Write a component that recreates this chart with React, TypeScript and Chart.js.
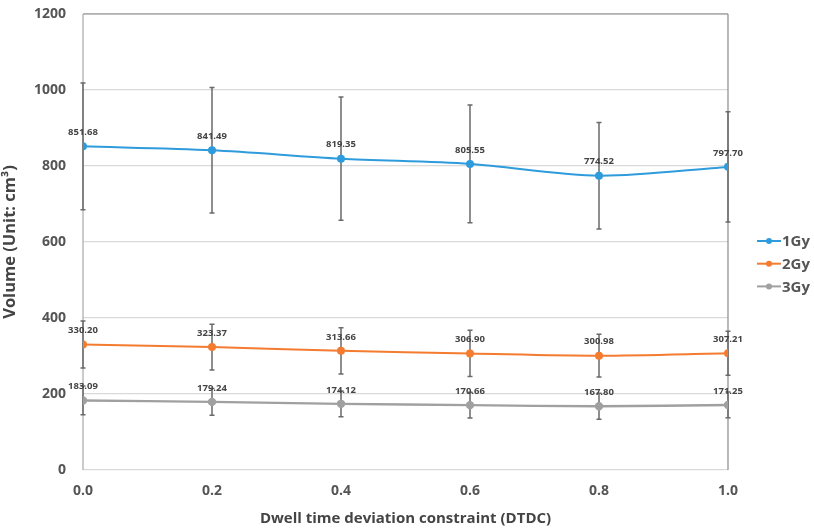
import React, { useEffect, useRef } from "react";
import { Chart, registerables } from "chart.js";

Chart.register(...registerables);

const dtdc = [0.0, 0.2, 0.4, 0.6, 0.8, 1.0];
const gy1 = [851.68, 841.49, 819.35, 805.55, 774.52, 797.7];
const gy2 = [330.2, 323.37, 313.66, 306.9, 300.98, 307.21];
const gy3 = [183.09, 179.24, 174.12, 170.66, 167.8, 171.25];
const err1 = [167, 165, 162, 155, 140, 145];
const err2 = [62, 60, 61, 61, 56, 58];
const err3 = [38, 35, 34, 34, 34, 34];
const seriesNames = ["1Gy", "2Gy", "3Gy"];
const seriesColors = ["#2E9CDC", "#F47B2F", "#A0A0A0"];
const yTicks = [0, 200, 400, 600, 800, 1000, 1200];

const FONT = "'Open Sans', 'Liberation Sans', sans-serif";

const errs = [err1, err2, err3];

const customPlugin = {
  id: "custom",
  beforeDatasetsDraw(chart: any) {
    const ctx = chart.ctx;
    const { left, right, top, bottom } = chart.chartArea;
    ctx.save();
    ctx.lineWidth = 1.2;
    ctx.strokeStyle = "#8a8a8a";
    ctx.beginPath();
    ctx.moveTo(left, top);
    ctx.lineTo(right, top);
    ctx.moveTo(right, top);
    ctx.lineTo(right, bottom);
    ctx.stroke();
    ctx.strokeStyle = "#a8a8a8";
    ctx.beginPath();
    ctx.moveTo(left, top);
    ctx.lineTo(left, bottom);
    ctx.stroke();
    const xs = chart.scales.x;
    const ys = chart.scales.y;
    ctx.strokeStyle = "#6a6a6a";
    ctx.lineWidth = 1.5;
    chart.data.datasets.forEach((ds: any, i: number) => {
      ds.data.forEach((p: any, j: number) => {
        const e = errs[i][j];
        const px = xs.getPixelForValue(p.x);
        const y1 = ys.getPixelForValue(p.y + e);
        const y2 = ys.getPixelForValue(p.y - e);
        ctx.beginPath();
        ctx.moveTo(px, y1);
        ctx.lineTo(px, y2);
        ctx.moveTo(px - 2.5, y1);
        ctx.lineTo(px + 2.5, y1);
        ctx.moveTo(px - 2.5, y2);
        ctx.lineTo(px + 2.5, y2);
        ctx.stroke();
      });
    });
    ctx.restore();
  },
  afterDatasetsDraw(chart: any) {
    const ctx = chart.ctx;
    const xs = chart.scales.x;
    const ys = chart.scales.y;
    ctx.save();
    ctx.font = `bold 9.5px ${FONT}`;
    ctx.fillStyle = "#444";
    ctx.textAlign = "center";
    ctx.textBaseline = "middle";
    chart.data.datasets.forEach((ds: any) => {
      ds.data.forEach((p: any) => {
        const px = xs.getPixelForValue(p.x);
        const py = ys.getPixelForValue(p.y);
        ctx.fillText(p.y.toFixed(2), px, py - 14);
      });
    });
    ctx.font = `bold 15px ${FONT}`;
    ctx.textAlign = "left";
    seriesNames.forEach((name, i) => {
      const y = 241 + i * 22.7;
      ctx.strokeStyle = seriesColors[i];
      ctx.lineWidth = 2;
      ctx.beginPath();
      ctx.moveTo(757, y);
      ctx.lineTo(781, y);
      ctx.stroke();
      ctx.fillStyle = seriesColors[i];
      ctx.beginPath();
      ctx.arc(769, y, 3, 0, Math.PI * 2);
      ctx.fill();
      ctx.fillStyle = "#555";
      ctx.fillText(name, 782, y + 1);
    });
    ctx.restore();
  },
};

export default function App() {
  const ref = useRef<HTMLCanvasElement>(null);
  useEffect(() => {
    document.body.style.margin = "0";
    const mk = (vals: number[]) => vals.map((v, i) => ({ x: dtdc[i], y: v }));
    const chart = new Chart(ref.current!, {
      type: "line",
      data: {
        datasets: [gy1, gy2, gy3].map((vals, i) => ({
          label: seriesNames[i],
          data: mk(vals),
          borderColor: seriesColors[i],
          backgroundColor: seriesColors[i],
          borderWidth: i === 2 ? 2.4 : 2,
          pointRadius: 3,
          pointHoverRadius: 3,
          tension: 0.3,
          fill: false,
        })),
      },
      options: {
        animation: false,
        responsive: false,
        maintainAspectRatio: false,
        layout: { padding: { top: 14, right: 86, left: 0, bottom: 0 } },
        plugins: { legend: { display: false }, tooltip: { enabled: false } },
        scales: {
          x: {
            type: "linear",
            min: 0,
            max: 1,
            afterFit: (s: any) => {
              s.height = 58;
              s.paddingLeft = 0;
              s.paddingRight = 0;
            },
            afterBuildTicks: (s: any) => {
              s.ticks = dtdc.map((v) => ({ value: v }));
            },
            grid: { display: false, drawTicks: false },
            border: { display: false },
            ticks: {
              padding: 13,
              color: "#555",
              font: { family: FONT, size: 14, weight: "bold" },
              callback: (v: any) => Number(v).toFixed(1),
            },
            title: {
              display: true,
              text: "Dwell time deviation constraint (DTDC)",
              color: "#444",
              font: { family: FONT, size: 15, weight: "bold" },
              padding: { top: 0, bottom: 0 },
            },
          },
          y: {
            min: 0,
            max: 1200,
            afterFit: (s: any) => {
              s.width = 83;
              s.paddingTop = 0;
              s.paddingBottom = 0;
            },
            afterBuildTicks: (s: any) => {
              s.ticks = yTicks.map((v) => ({ value: v }));
            },
            grid: { color: "#d9d9d9", lineWidth: 1.2, drawTicks: false },
            border: { display: false },
            ticks: {
              padding: 17,
              color: "#555",
              font: { family: FONT, size: 14, weight: "bold" },
              callback: (v: any) => String(v),
            },
            title: {
              display: true,
              text: "Volume (Unit: cm³)",
              color: "#444",
              font: { family: FONT, size: 16.5, weight: "bold" },
              padding: { top: 0, bottom: 0 },
            },
          },
        },
      },
      plugins: [customPlugin],
    } as any);
    return () => chart.destroy();
  }, []);
  return (
    <div style={{ width: 814, height: 528, position: "relative", background: "#fff" }}>
      <canvas ref={ref} width={814} height={528} style={{ width: 814, height: 528 }} />
    </div>
  );
}
